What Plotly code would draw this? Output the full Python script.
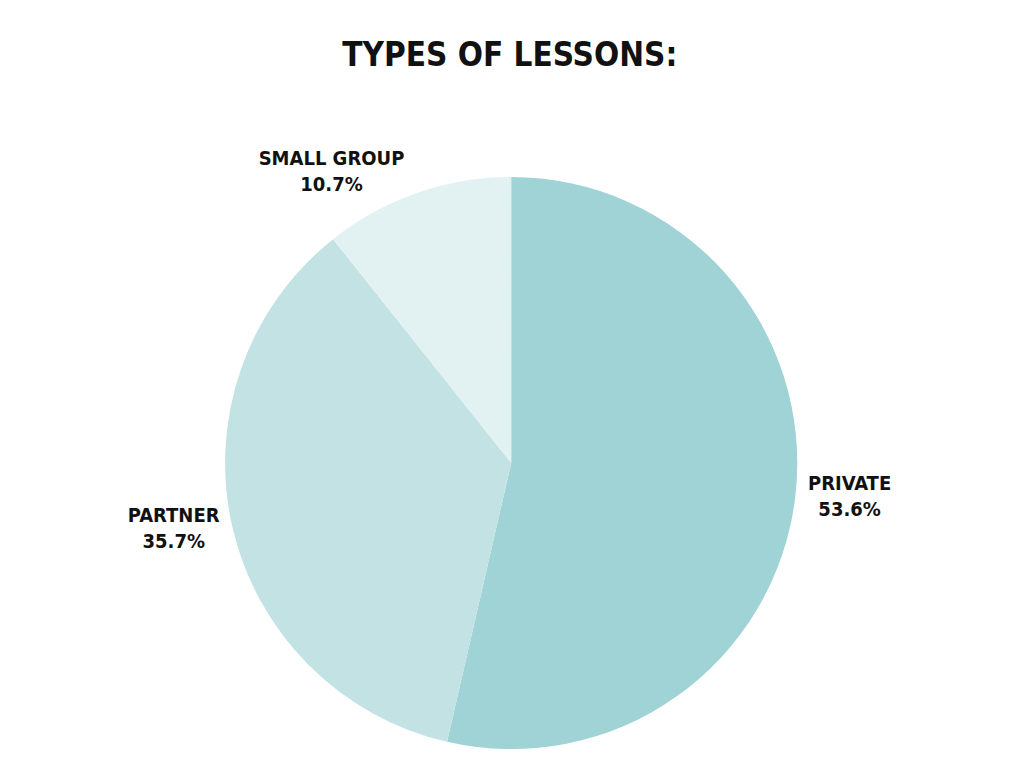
import plotly.graph_objects as go

labels = ['PRIVATE', 'PARTNER', 'SMALL GROUP']
values = [53.6, 35.7, 10.7]
colors = ['#9fd3d6', '#c2e2e4', '#e2f1f2']

fig = go.Figure()

fig.add_trace(go.Pie(labels=labels,
                     values=values,
                     sort=False,
                     direction='clockwise',
                     rotation=0,
                     marker=dict(colors=colors, line=dict(width=0)),
                     texttemplate='<b>%{label}</b><br><b>%{value:.1f}%</b>',
                     textposition='outside',
                     textfont=dict(family='DejaVu Sans Condensed', size=20, color='#111111'),
                     hoverinfo='label+percent',
                     showlegend=False,
                     domain=dict(x=[0.07, 0.81], y=[0.035, 0.78])))

fig.update_layout(
    title=dict(text='<b>TYPES OF LESSONS:</b>', x=0.49, y=0.94, xanchor='center', yanchor='middle',
               font=dict(family='DejaVu Sans Condensed', size=33, color='#111111')),
    width=1024, height=768,
    margin=dict(l=0, r=0, t=0, b=0),
    paper_bgcolor='white',
    plot_bgcolor='white'
)

fig.write_html('out.html')
